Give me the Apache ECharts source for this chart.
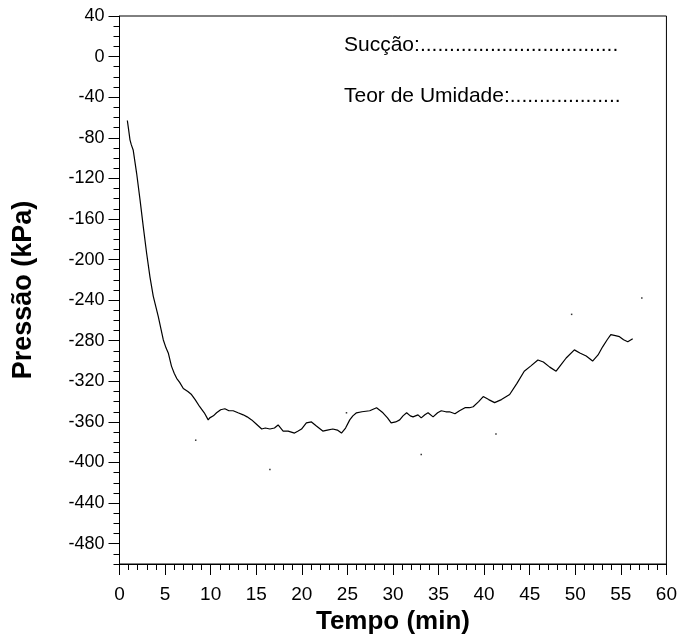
<!DOCTYPE html>
<html>
<head>
<meta charset="utf-8">
<script src="https://cdn.jsdelivr.net/npm/echarts@6/dist/echarts.min.js"></script>
<style>html,body{margin:0;padding:0;background:#fff}#c{width:680px;height:640px}</style>
</head>
<body>
<div id="c"></div>
<script>
var tempo = [0.86,1.0,1.15,1.3,1.5,1.88,2.25,2.6,2.98,3.34,3.7,4.25,4.8,5.1,5.35,5.7,6.0,6.27,6.6,7.0,7.5,7.9,8.3,8.8,9.3,9.73,9.9,10.3,10.65,11.1,11.56,12.0,12.47,13.0,13.57,14.0,14.5,15.0,15.6,16.0,16.5,17.0,17.4,17.95,18.5,19.2,19.6,19.97,20.5,21.06,21.6,22.3,22.8,23.4,23.9,24.35,24.8,25.26,25.6,26.0,26.6,27.45,28.2,28.9,29.4,29.8,30.3,30.74,31.1,31.5,31.9,32.2,32.75,33.1,33.5,33.85,34.4,34.9,35.3,35.8,36.2,36.8,37.3,37.9,38.4,38.8,39.4,39.9,40.5,41.15,41.9,42.8,43.6,44.4,45.1,45.9,46.5,47.2,47.9,48.4,49.0,49.9,50.5,51.2,51.9,52.5,53.0,53.5,53.9,54.4,54.85,55.3,55.76,56.3];
var pressao = [-63,-72,-82,-87,-92,-115,-141,-167,-194,-217,-236,-256,-279,-287,-292,-305,-312,-317,-321,-327,-330,-333,-338,-345,-351,-358,-356,-354,-351,-348,-347,-349,-349,-351,-353,-355,-358,-362,-367,-366,-367,-366,-363,-369,-369,-371,-369,-367,-361,-360,-364,-369,-368,-367,-368,-371,-366,-358,-354,-351,-350,-349,-346,-351,-356,-361,-360,-358,-354,-351,-354,-355,-353,-356,-353,-351,-355,-351,-349,-350,-350,-352,-349,-346,-346,-345,-340,-335,-338,-341,-338,-333,-322,-310,-305,-299,-301,-306,-310,-304,-297,-289,-292,-295,-300,-294,-286,-279,-274,-275,-276,-279,-281,-278];
var pontosTempo = [8.36,16.5,24.9,33.1,41.3,49.6,57.3];
var pontosPressao = [-378,-407,-351,-392,-372,-254,-238];
var yTicks = [40,0,-40,-80,-120,-160,-200,-240,-280,-320,-360,-400,-440,-480];
var xTicks = [0,5,10,15,20,25,30,35,40,45,50,55,60];
var textoSuccao = 'Sucção:..................................';
var textoTeor = 'Teor de Umidade:...................';

var FONT = '"Liberation Sans", Arial, sans-serif';
var linha = tempo.map(function(t,i){return [t, pressao[i]];});
var pontos = pontosTempo.map(function(t,i){return [t, pontosPressao[i]];});

var chart = echarts.init(document.getElementById('c'), null, {renderer:'canvas'});
chart.setOption({
  animation:false,
  backgroundColor:'#fff',
  textStyle:{fontFamily:FONT},
  grid:{left:119.5, right:12.5, top:16, bottom:76, show:true, borderColor:'#000', borderWidth:1, backgroundColor:'transparent'},
  xAxis:{
    type:'value', min:0, max:60, interval:5,
    axisLine:{show:true, onZero:false, lineStyle:{color:'#000', width:1}},
    axisTick:{show:true, inside:false, length:11, lineStyle:{color:'#000'}},
    minorTick:{show:true, splitNumber:5, length:6, lineStyle:{color:'#000'}},
    axisLabel:{color:'#000', fontSize:19, fontFamily:FONT, margin:21, customValues:xTicks},
    splitLine:{show:false},
    name:'Tempo (min)', nameLocation:'middle', nameGap:44,
    nameTextStyle:{color:'#000', fontSize:26, fontWeight:'bold', fontFamily:FONT}
  },
  yAxis:[{
    type:'value', min:-500, max:40, position:'left',
    axisLine:{show:true, onZero:false, lineStyle:{color:'#000', width:1}},
    axisTick:{show:true, inside:false, length:11, customValues:yTicks, lineStyle:{color:'#000'}},
    axisLabel:{color:'#000', fontSize:18, fontFamily:FONT, margin:15, customValues:yTicks},
    splitLine:{show:false},
    name:'Pressão (kPa)', nameLocation:'middle', nameGap:82, nameRotate:90,
    nameTextStyle:{color:'#000', fontSize:27, fontWeight:'bold', fontFamily:FONT}
  },{
    type:'value', min:-500, max:40, interval:10, position:'left',
    axisLine:{show:false},
    axisTick:{show:true, inside:false, length:6, lineStyle:{color:'#000'}},
    axisLabel:{show:false},
    splitLine:{show:false}
  }],
  graphic:[
    {type:'text', left:344, top:35, style:{text:textoSuccao, font:'21px "Liberation Sans", Arial, sans-serif', fill:'#000'}},
    {type:'text', left:344, top:86, style:{text:textoTeor, font:'21px "Liberation Sans", Arial, sans-serif', fill:'#000'}}
  ],
  series:[
    {type:'line', data:linha, showSymbol:false, symbol:'none', lineStyle:{color:'#000', width:1.2}, silent:true},
    {type:'scatter', data:pontos, symbol:'rect', symbolSize:1.5, itemStyle:{color:'#000'}, silent:true}
  ]
});
</script>
</body>
</html>
